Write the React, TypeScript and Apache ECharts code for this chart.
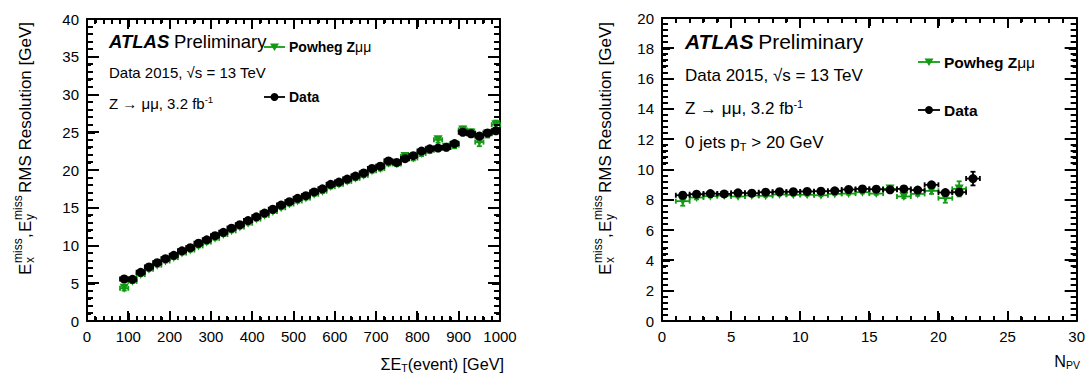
import React, { useEffect, useRef } from "react";
import * as echarts from "echarts";

const FONT = "'Liberation Sans', Arial, Helvetica, sans-serif";
const GREEN = "#129a12";

// ---- Left panel: resolution vs sum E_T ----
const sumEtBins = [90, 110, 130, 150, 170, 190, 210, 230, 250, 270, 290, 310, 330, 350, 370, 390, 410, 430, 450, 470, 490, 510, 530, 550, 570, 590, 610, 630, 650, 670, 690, 710, 730, 750, 770, 790, 810, 830, 850, 870, 890, 910, 930, 950, 970, 990];
const sumEtHalfWidth = 10;
const dataVsSumEt = [5.56, 5.52, 6.45, 7.15, 7.72, 8.25, 8.7, 9.3, 9.7, 10.3, 10.75, 11.3, 11.75, 12.3, 12.75, 13.3, 13.8, 14.3, 14.8, 15.36, 15.8, 16.25, 16.6, 17.1, 17.5, 18.1, 18.4, 18.8, 19.2, 19.6, 20.2, 20.5, 21.2, 21.0, 21.5, 21.9, 22.5, 22.8, 22.9, 23.0, 23.5, 25.0, 24.8, 24.5, 24.9, 25.2];
const dataVsSumEtErr = [0.08, 0.08, 0.08, 0.08, 0.08, 0.08, 0.08, 0.08, 0.08, 0.08, 0.09, 0.09, 0.09, 0.1, 0.1, 0.1, 0.1, 0.11, 0.11, 0.12, 0.12, 0.13, 0.13, 0.14, 0.14, 0.15, 0.15, 0.16, 0.17, 0.18, 0.19, 0.2, 0.2, 0.21, 0.22, 0.23, 0.24, 0.25, 0.26, 0.27, 0.28, 0.3, 0.3, 0.32, 0.34, 0.36];
const mcVsSumEt = [4.33, 5.25, 6.15, 6.85, 7.4, 7.95, 8.4, 9.0, 9.4, 9.95, 10.45, 10.95, 11.45, 11.95, 12.45, 12.95, 13.5, 14.0, 14.5, 15.0, 15.5, 15.9, 16.3, 16.8, 17.2, 17.8, 18.1, 18.5, 18.9, 19.3, 19.9, 20.2, 20.9, 20.8, 21.8, 21.6, 22.2, 22.6, 24.0, 23.0, 23.3, 25.3, 24.9, 23.7, 24.8, 26.0];
const mcVsSumEtErr = [0.3, 0.2, 0.2, 0.2, 0.2, 0.2, 0.2, 0.2, 0.2, 0.2, 0.2, 0.2, 0.2, 0.2, 0.2, 0.2, 0.2, 0.2, 0.2, 0.2, 0.22, 0.22, 0.22, 0.22, 0.24, 0.24, 0.24, 0.25, 0.25, 0.26, 0.27, 0.28, 0.3, 0.3, 0.32, 0.33, 0.35, 0.36, 0.38, 0.4, 0.42, 0.45, 0.48, 0.55, 0.5, 0.55];

// ---- Right panel: resolution vs N_PV ----
const npvBins = [1.5, 2.5, 3.5, 4.5, 5.5, 6.5, 7.5, 8.5, 9.5, 10.5, 11.5, 12.5, 13.5, 14.5, 15.5, 16.5, 17.5, 18.5, 19.5, 20.5, 21.5, 22.5];
const npvHalfWidth = 0.5;
const dataVsNpv = [8.30, 8.37, 8.41, 8.39, 8.46, 8.44, 8.50, 8.53, 8.53, 8.55, 8.57, 8.59, 8.68, 8.72, 8.70, 8.66, 8.72, 8.64, 8.99, 8.48, 8.50, 9.40];
const dataVsNpvErr = [0.06, 0.04, 0.04, 0.04, 0.04, 0.04, 0.04, 0.04, 0.04, 0.04, 0.05, 0.05, 0.06, 0.06, 0.07, 0.08, 0.09, 0.1, 0.12, 0.15, 0.2, 0.45];
const mcVsNpv = [7.91, 8.15, 8.24, 8.28, 8.22, 8.28, 8.26, 8.35, 8.33, 8.33, 8.30, 8.39, 8.41, 8.50, 8.41, 8.72, 8.22, 8.39, 8.59, 8.11, 8.72];
const mcVsNpvErr = [0.3, 0.12, 0.08, 0.06, 0.06, 0.06, 0.06, 0.06, 0.06, 0.06, 0.06, 0.07, 0.07, 0.08, 0.08, 0.1, 0.12, 0.12, 0.2, 0.3, 0.5];

// ---- Axis ticks (major); minor ticks subdivide each interval ----
const leftXMajor = [0, 100, 200, 300, 400, 500, 600, 700, 800, 900, 1000];
const leftYMajor = [0, 5, 10, 15, 20, 25, 30, 35, 40];
const rightXMajor = [0, 5, 10, 15, 20, 25, 30];
const rightYMajor = [0, 2, 4, 6, 8, 10, 12, 14, 16, 18, 20];
const minorDivisions = 5;

const legendMc = "Powheg Z";
const legendMcSym = "μμ";
const legendData = "Data";

const LINE_W = 2;
const X_MAJOR_LEN = 10, X_MINOR_LEN = 5, Y_MAJOR_LEN = 12, Y_MINOR_LEN = 6;
const GRIDS = [
  { left: 87, top: 19, width: 413, height: 302 },
  { left: 662, top: 18, width: 416, height: 303 },
];

function errRender(color: string) {
  return (params: any, api: any) => {
    const x = api.value(0), y = api.value(1), ex = api.value(2), ey = api.value(3);
    const l = api.coord([x - ex, y]);
    const r = api.coord([x + ex, y]);
    const b = api.coord([x, y - ey]);
    const t = api.coord([x, y + ey]);
    const style = { stroke: color, lineWidth: 1.8 };
    const cap = 2.5;
    return {
      type: "group",
      children: [
        { type: "line", shape: { x1: l[0], y1: l[1], x2: r[0], y2: r[1] }, style },
        { type: "line", shape: { x1: l[0], y1: l[1] - cap, x2: l[0], y2: l[1] + cap }, style },
        { type: "line", shape: { x1: r[0], y1: r[1] - cap, x2: r[0], y2: r[1] + cap }, style },
        { type: "line", shape: { x1: b[0], y1: b[1], x2: t[0], y2: t[1] }, style },
        { type: "line", shape: { x1: b[0] - cap, y1: b[1], x2: b[0] + cap, y2: b[1] }, style },
        { type: "line", shape: { x1: t[0] - cap, y1: t[1], x2: t[0] + cap, y2: t[1] }, style },
      ],
    };
  };
}

function subdivide(major: number[]) {
  const out: { v: number; major: boolean }[] = [];
  major.forEach((v, i) => {
    out.push({ v, major: true });
    if (i < major.length - 1) {
      const step = (major[i + 1] - v) / minorDivisions;
      for (let k = 1; k < minorDivisions; k++) out.push({ v: v + k * step, major: false });
    }
  });
  return out;
}

// Pixel position of a value, asked from the chart's own grid; linear fallback from the grid box
function makeMapper(chart: any, g: number, xMajor: number[], yMajor: number[]) {
  const box = GRIDS[g];
  const xMin = xMajor[0], xMax = xMajor[xMajor.length - 1];
  const yMin = yMajor[0], yMax = yMajor[yMajor.length - 1];
  const toPx = (x: number, y: number): [number, number] => {
    let p: any = null;
    try {
      p = chart.convertToPixel({ gridIndex: g }, [x, y]);
    } catch (e) {
      p = null;
    }
    if (p && isFinite(p[0]) && isFinite(p[1])) return [p[0], p[1]];
    return [
      box.left + ((x - xMin) / (xMax - xMin)) * box.width,
      box.top + box.height - ((y - yMin) / (yMax - yMin)) * box.height,
    ];
  };
  return { toPx, xMin, xMax, yMin, yMax };
}

function tickGraphics(chart: any, g: number, xMajor: number[], yMajor: number[]) {
  const m = makeMapper(chart, g, xMajor, yMajor);
  const [left, bottom] = m.toPx(m.xMin, m.yMin);
  const [right, top] = m.toPx(m.xMax, m.yMax);
  const els: any[] = [];
  const rect = (x: number, y: number, w: number, h: number) =>
    els.push({ type: "rect", silent: true, z: 100, shape: { x, y, width: w, height: h }, style: { fill: "#000", stroke: null } });
  subdivide(xMajor).forEach(({ v, major }) => {
    const len = major ? X_MAJOR_LEN : X_MINOR_LEN;
    const x = Math.round(m.toPx(v, m.yMin)[0]) - LINE_W / 2;
    rect(x, bottom - len, LINE_W, len);
    rect(x, top, LINE_W, len);
  });
  subdivide(yMajor).forEach(({ v, major }) => {
    const len = major ? Y_MAJOR_LEN : Y_MINOR_LEN;
    const y = Math.round(m.toPx(m.xMin, v)[1]) - LINE_W / 2;
    rect(left, y, len, LINE_W);
    rect(right - len, y, len, LINE_W);
  });
  return els;
}

function axis(gridIndex: number, min: number, max: number, interval: number, position: string, labels: boolean) {
  return {
    type: "value",
    gridIndex,
    min,
    max,
    interval,
    position,
    axisLine: { show: true, onZero: false, lineStyle: { color: "#000", width: LINE_W } },
    axisTick: { show: true, inside: true, length: 8, lineStyle: { color: "#000", width: LINE_W } },
    minorTick: { show: true, splitNumber: minorDivisions, length: 4, lineStyle: { color: "#000", width: LINE_W } },
    splitLine: { show: false },
    minorSplitLine: { show: false },
    axisLabel: { show: labels, color: "#000", fontSize: 15, fontFamily: FONT, margin: 8, formatter: (v: number) => String(v) },
  };
}

function txt(text: string, x: number, y: number, rich: any, align = "left") {
  return {
    type: "text",
    x,
    y,
    style: {
      text,
      rich,
      fill: "#000",
      fontFamily: FONT,
      fontSize: 17,
      align,
      textAlign: align,
      verticalAlign: "middle",
      textVerticalAlign: "middle",
    },
  };
}

function richSet(k: number, legendSize: number) {
  const f = (s: number) => Math.round(s * k * 10) / 10;
  return {
    n: { fontSize: f(17), fontFamily: FONT, color: "#000", lineHeight: f(20), verticalAlign: "middle" },
    sup: { fontSize: f(11), fontFamily: FONT, color: "#000", lineHeight: f(10), verticalAlign: "top" },
    sub: { fontSize: f(11), fontFamily: FONT, color: "#000", lineHeight: f(10), verticalAlign: "bottom" },
    atlas: { fontSize: f(21), fontFamily: FONT, color: "#000", fontWeight: "bold", fontStyle: "italic", lineHeight: f(24) },
    prel: { fontSize: f(21), fontFamily: FONT, color: "#000", lineHeight: f(24) },
    lb: { fontSize: legendSize, fontFamily: FONT, color: "#000", fontWeight: "bold", lineHeight: 20 },
    lm: { fontSize: legendSize, fontFamily: FONT, color: "#000", lineHeight: 20 },
  };
}
const richRight = richSet(1, 15.5);
const richLeft = richSet(0.88, 14);
const richTitle = richSet(0.95, 15);

function annotations(x0: number, ys: number[], withJets: boolean, rich: any) {
  const els: any[] = [
    txt("{atlas|ATLAS} {prel|Preliminary}", x0, ys[0], rich),
    txt("{n|Data 2015, √s = 13 TeV}", x0, ys[1], rich),
    txt("{n|Z → μμ, 3.2 fb}{sup|-1}", x0, ys[2], rich),
  ];
  if (withJets) els.push(txt("{n|0 jets p}{sub|T}{n| > 20 GeV}", x0, ys[3], rich));
  return els;
}

function legend(x1: number, x2: number, yMc: number, yData: number, rich: any) {
  const cx = (x1 + x2) / 2;
  const s = 4.5;
  return [
    { type: "line", shape: { x1, y1: yMc, x2, y2: yMc }, style: { stroke: GREEN, lineWidth: 1.8 } },
    { type: "polygon", shape: { points: [[cx - s, yMc - s * 0.8], [cx + s, yMc - s * 0.8], [cx, yMc + s * 0.9]] }, style: { fill: GREEN } },
    txt(`{lb|${legendMc}}{lm|${legendMcSym}}`, x2 + 4, yMc, rich),
    { type: "line", shape: { x1, y1: yData, x2, y2: yData }, style: { stroke: "#000", lineWidth: 1.8 } },
    { type: "circle", shape: { cx, cy: yData, r: 4 }, style: { fill: "#000" } },
    txt(`{lb|${legendData}}`, x2 + 4, yData, rich),
  ];
}

function yTitle(cx: number, bottom: number) {
  const big = { fontSize: 17, fontFamily: FONT, fill: "#000", verticalAlign: "middle", textVerticalAlign: "middle", align: "left", textAlign: "left" };
  const small = { ...big, fontSize: 12 };
  return {
    type: "group",
    x: cx,
    y: bottom,
    rotation: Math.PI / 2,
    children: [
      { type: "text", x: 0, y: 0, style: { ...big, text: "E" } },
      { type: "text", x: 12, y: 5, style: { ...small, text: "x" } },
      { type: "text", x: 12, y: -7, style: { ...small, text: "miss" } },
      { type: "text", x: 37, y: 0, style: { ...big, text: "," } },
      { type: "text", x: 43, y: 0, style: { ...big, text: "E" } },
      { type: "text", x: 55, y: 5, style: { ...small, text: "y" } },
      { type: "text", x: 55, y: -7, style: { ...small, text: "miss" } },
      { type: "text", x: 82, y: 0, style: { ...big, text: "RMS Resolution [GeV]" } },
    ],
  };
}

function baseGraphics() {
  return [
    ...annotations(109, [41, 72, 103], false, richLeft),
    ...annotations(685, [41, 75, 108, 142], true, richRight),
    ...legend(264, 285, 47, 97, richLeft),
    ...legend(918, 940, 62, 110, richRight),
    yTitle(25, 275),
    yTitle(605, 275),
    txt("{n|ΣE}{sub|T}{n|(event) [GeV]}", 504, 364, richTitle, "right"),
    txt("{n|N}{sub|PV}", 1080, 361, richTitle, "right"),
  ];
}

function buildOption() {
  const leftMc = sumEtBins.map((x, i) => [x, mcVsSumEt[i], sumEtHalfWidth, mcVsSumEtErr[i]]);
  const leftData = sumEtBins.map((x, i) => [x, dataVsSumEt[i], sumEtHalfWidth, dataVsSumEtErr[i]]);
  const rightMc = mcVsNpv.map((v, i) => [npvBins[i], v, npvHalfWidth, mcVsNpvErr[i]]);
  const rightData = npvBins.map((x, i) => [x, dataVsNpv[i], npvHalfWidth, dataVsNpvErr[i]]);

  const series: any[] = [];
  const add = (xi: number, yi: number, data: number[][], color: string, symbol: string, rot: number) => {
    series.push({
      type: "custom",
      xAxisIndex: xi,
      yAxisIndex: yi,
      renderItem: errRender(color),
      data,
      z: color === "#000" ? 4 : 2,
      silent: true,
    });
    series.push({
      type: "scatter",
      xAxisIndex: xi,
      yAxisIndex: yi,
      data: data.map((d) => [d[0], d[1]]),
      symbol,
      symbolRotate: rot,
      symbolSize: 9,
      itemStyle: { color, opacity: 1 },
      z: color === "#000" ? 5 : 3,
      silent: true,
    });
  };
  add(0, 0, leftMc, GREEN, "triangle", 180);
  add(0, 0, leftData, "#000", "circle", 0);
  add(2, 2, rightMc, GREEN, "triangle", 180);
  add(2, 2, rightData, "#000", "circle", 0);

  return {
    animation: false,
    backgroundColor: "#fff",
    textStyle: { fontFamily: FONT },
    grid: GRIDS,
    xAxis: [
      axis(0, 0, 1000, 100, "bottom", true),
      axis(0, 0, 1000, 100, "top", false),
      axis(1, 0, 30, 5, "bottom", true),
      axis(1, 0, 30, 5, "top", false),
    ],
    yAxis: [
      axis(0, 0, 40, 5, "left", true),
      axis(0, 0, 40, 5, "right", false),
      axis(1, 0, 20, 2, "left", true),
      axis(1, 0, 20, 2, "right", false),
    ],
    series,
    graphic: baseGraphics(),
  };
}

export default function App() {
  const ref = useRef<HTMLDivElement>(null);
  useEffect(() => {
    if (!ref.current) return;
    const chart = echarts.init(ref.current, null, { renderer: "svg" });
    chart.setOption(buildOption() as any);
    const ticks = [
      ...tickGraphics(chart, 0, leftXMajor, leftYMajor),
      ...tickGraphics(chart, 1, rightXMajor, rightYMajor),
    ];
    chart.setOption({ graphic: { elements: [...baseGraphics(), ...ticks] } } as any);
    return () => chart.dispose();
  }, []);
  return <div ref={ref} style={{ position: "absolute", left: 0, top: 0, width: 1088, height: 374, background: "#fff" }} />;
}
